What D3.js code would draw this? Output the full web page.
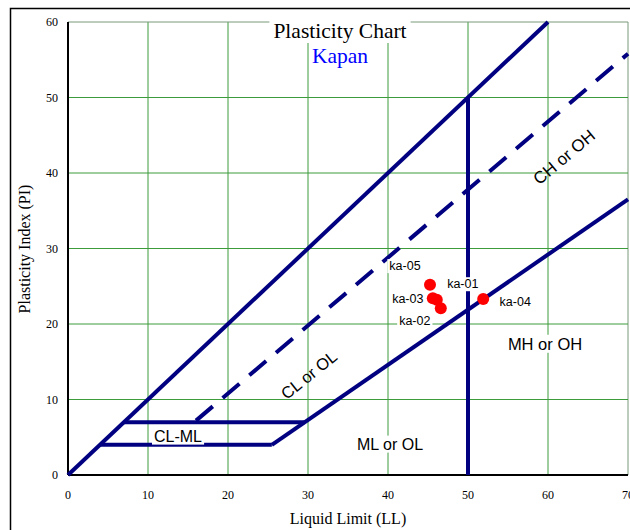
<!DOCTYPE html>
<html>
<head>
<meta charset="utf-8">
<script src="https://cdn.jsdelivr.net/npm/d3@7"></script>
<style>
  body { margin: 0; background: #fff; }
  text { font-family: "Liberation Serif", "Times New Roman", serif; }
  .lbl { font-family: "Liberation Sans", Arial, sans-serif; }
</style>
</head>
<body>
<script>
  // sample points (LL, PI)
  var sampleNames = ['ka-01', 'ka-02', 'ka-03', 'ka-04', 'ka-05'],
      sampleLL = [46.1, 46.6, 45.6, 51.9, 45.25],
      samplePI = [23.2, 22.1, 23.4, 23.3, 25.2],
      // label offsets in px from the point
      labelDx = [26, -26, -25, 32, -25],
      labelDy = [-16, 12, 0, 3, -19];

  // chart boundary lines, each a list of [LL, PI]
  var limitLine = [[0, 0], [60, 60]],
      uLine = [[16, 7.2], [70, 55.8]],
      aLine = [[25.48, 4], [70, 36.5]],
      clml7 = [[7, 7], [29.6, 7]],
      clml4 = [[4, 4], [25.48, 4]],
      llFifty = [[50, 0], [50, 50]];

  var xTicks = [0, 10, 20, 30, 40, 50, 60, 70],
      yTicks = [0, 10, 20, 30, 40, 50, 60];

  var W = 630, H = 530,
      plotL = 68, plotR = 628, plotT = 22, plotB = 475;

  var svg = d3.select('body').append('svg')
    .attr('width', W).attr('height', H);

  var x = d3.scaleLinear().domain([0, 70]).range([plotL, plotR]),
      y = d3.scaleLinear().domain([0, 60]).range([plotB, plotT]);

  // outer chart border
  svg.append('rect')
    .attr('x', 10.5).attr('y', 8.5)
    .attr('width', 640).attr('height', 540)
    .attr('fill', 'none').attr('stroke', '#000').attr('stroke-width', 1.5);

  // gridlines
  var grid = svg.append('g');
  grid.selectAll('line.vx')
    .data(xTicks.slice(1))
    .enter().append('line')
    .attr('class', 'vx')
    .attr('x1', function (d) { return x(d); })
    .attr('x2', function (d) { return x(d); })
    .attr('y1', y(0)).attr('y2', y(60))
    .attr('stroke', function (d) { return d === 70 ? '#7a9a7a' : '#3c9c3c'; })
    .attr('stroke-width', 1);
  grid.selectAll('line.hy')
    .data(yTicks.slice(1))
    .enter().append('line')
    .attr('class', 'hy')
    .attr('y1', function (d) { return y(d); })
    .attr('y2', function (d) { return y(d); })
    .attr('x1', x(0)).attr('x2', x(70))
    .attr('stroke', function (d) { return d === 60 ? '#7a9a7a' : '#3c9c3c'; })
    .attr('stroke-width', 1);

  // axes
  svg.append('line')
    .attr('x1', x(0)).attr('x2', x(0)).attr('y1', y(0)).attr('y2', y(60))
    .attr('stroke', '#000').attr('stroke-width', 2);
  svg.append('line')
    .attr('x1', x(0)).attr('x2', x(70)).attr('y1', y(0)).attr('y2', y(0))
    .attr('stroke', '#000').attr('stroke-width', 2);

  svg.selectAll('text.xt')
    .data(xTicks)
    .enter().append('text')
    .attr('class', 'xt')
    .attr('x', function (d) { return x(d); })
    .attr('y', 499)
    .attr('text-anchor', 'middle')
    .attr('font-size', 12)
    .text(function (d) { return d; });
  svg.selectAll('text.yt')
    .data(yTicks)
    .enter().append('text')
    .attr('class', 'yt')
    .attr('x', 58)
    .attr('y', function (d) { return y(d) + 4; })
    .attr('text-anchor', 'end')
    .attr('font-size', 12)
    .text(function (d) { return d; });

  svg.append('text')
    .attr('x', 348).attr('y', 524)
    .attr('text-anchor', 'middle').attr('font-size', 16)
    .text('Liquid Limit (LL)');
  svg.append('text')
    .attr('transform', 'translate(30,249) rotate(-90)')
    .attr('text-anchor', 'middle').attr('font-size', 16)
    .text('Plasticity Index (PI)');

  // chart lines
  var lineGen = d3.line()
    .x(function (d) { return x(d[0]); })
    .y(function (d) { return y(d[1]); });

  var solid = [limitLine, aLine, clml7, clml4, llFifty];
  svg.append('g').selectAll('path')
    .data(solid)
    .enter().append('path')
    .attr('d', lineGen)
    .attr('fill', 'none')
    .attr('stroke', '#000080')
    .attr('stroke-width', 4);

  svg.append('path')
    .attr('d', lineGen(uLine))
    .attr('fill', 'none')
    .attr('stroke', '#000080')
    .attr('stroke-width', 4)
    .attr('stroke-dasharray', '22,13');

  // label with white box behind
  function boxLabel(tx, ty, txt, size, rot) {
    var g = svg.append('g')
      .attr('transform', 'translate(' + tx + ',' + ty + ') rotate(' + (rot || 0) + ')');
    var t = g.append('text')
      .attr('class', 'lbl')
      .attr('text-anchor', 'middle')
      .attr('dy', '0.35em')
      .attr('font-size', size)
      .text(txt);
    var b = t.node().getBBox();
    g.insert('rect', 'text')
      .attr('x', b.x - 2).attr('y', b.y)
      .attr('width', b.width + 4).attr('height', b.height)
      .attr('fill', '#fff');
    return g;
  }

  boxLabel(178, 436, 'CL-ML', 16);
  boxLabel(390, 444, 'ML or OL', 16);
  boxLabel(545, 344, 'MH or OH', 16.5);
  svg.append('text').attr('class', 'lbl')
    .attr('transform', 'translate(309,375) rotate(-39)')
    .attr('text-anchor', 'middle').attr('dy', '0.35em')
    .attr('font-size', 16.5).text('CL or OL');
  svg.append('text').attr('class', 'lbl')
    .attr('transform', 'translate(564,157) rotate(-40)')
    .attr('text-anchor', 'middle').attr('dy', '0.35em')
    .attr('font-size', 17).text('CH or OH');

  // sample points and their labels
  sampleNames.forEach(function (n, i) {
    boxLabel(x(sampleLL[i]) + labelDx[i], y(samplePI[i]) + labelDy[i], n, 12.5);
  });
  svg.append('g').selectAll('circle')
    .data(sampleNames)
    .enter().append('circle')
    .attr('cx', function (d, i) { return x(sampleLL[i]); })
    .attr('cy', function (d, i) { return y(samplePI[i]); })
    .attr('r', 6)
    .attr('fill', '#ff0000');

  // title
  var tg = svg.append('g');
  var t1 = tg.append('text')
    .attr('x', 340).attr('y', 38)
    .attr('text-anchor', 'middle').attr('font-size', 21.5)
    .text('Plasticity Chart');
  var tb = t1.node().getBBox();
  tg.insert('rect', 'text')
    .attr('x', tb.x - 4).attr('y', tb.y)
    .attr('width', tb.width + 8).attr('height', tb.height)
    .attr('fill', '#fff');
  svg.append('text')
    .attr('x', 340).attr('y', 63)
    .attr('text-anchor', 'middle').attr('font-size', 21.5)
    .attr('fill', '#0000ff')
    .text('Kapan');
</script>
</body>
</html>
